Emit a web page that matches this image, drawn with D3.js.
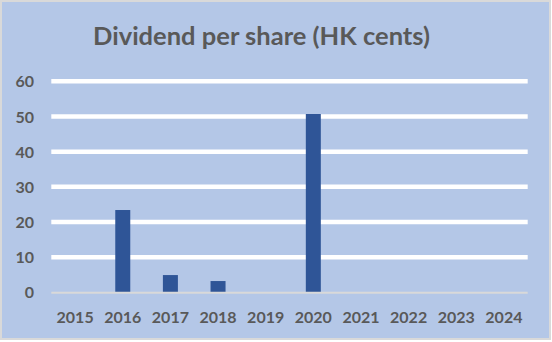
<!DOCTYPE html>
<html><head><meta charset="utf-8">
<script src="https://cdn.jsdelivr.net/npm/d3@7"></script>
<style>body{margin:0;background:#fff}svg{display:block}</style>
</head><body><svg id="c" width="552" height="342"></svg>
<script>
const categories = ["2015","2016","2017","2018","2019","2020","2021","2022","2023","2024"];
const values = [0, 23.4, 4.9, 3.2, 0, 50.7, 0, 0, 0, 0];
const yTicks = [0, 10, 20, 30, 40, 50, 60];
const title = "Dividend per share (HK cents)";

const svg = d3.select("#c");
svg.append("rect").attr("x",1).attr("y",1).attr("width",549).attr("height",338)
  .attr("fill","#b4c7e7").attr("stroke","#d9d9d9").attr("stroke-width",2);

const x = d3.scaleBand().domain(categories).range([51.3, 527.7]).paddingInner(0).paddingOuter(0);
const y = d3.scaleLinear().domain([0, 60]).range([292.3, 81.3]);
const font = "Lato, 'Open Sans', sans-serif";

svg.append("text").attr("x",261.5).attr("y",45).attr("text-anchor","middle")
  .attr("font-family",font).attr("font-weight","bold").attr("font-size",24.5)
  .attr("fill","#595959").attr("textLength",337).attr("lengthAdjust","spacingAndGlyphs").text(title);

const g = svg.append("g");
g.selectAll("line.grid").data(yTicks.filter(d=>d>0)).join("line").attr("class","grid")
  .attr("x1",51.3).attr("x2",527.7).attr("y1",d=>y(d)).attr("y2",d=>y(d))
  .attr("stroke","#fff").attr("stroke-width",4.5);

const bw = 15;
g.selectAll("rect.bar").data(categories.map((c,i)=>({c,v:values[i]})).filter(d=>d.v>0)).join("rect")
  .attr("class","bar")
  .attr("x",d=>x(d.c)+x.bandwidth()/2-bw/2).attr("width",bw)
  .attr("y",d=>y(d.v)).attr("height",d=>y(0)-y(d.v)).attr("fill","#2f5597");

g.append("line").attr("x1",51.3).attr("x2",527.7).attr("y1",y(0)+0.5).attr("y2",y(0)+0.5)
  .attr("stroke","#d9d9d9").attr("stroke-width",2);

const yAxis = d3.axisLeft(y).tickValues(yTicks).tickSize(0).tickPadding(0);
const ya = svg.append("g").attr("transform","translate(34,0)").call(yAxis);
ya.select(".domain").remove();
ya.selectAll("text").attr("font-family",font).attr("font-weight","bold").attr("font-size",16)
  .attr("fill","#595959").attr("dy","0.35em");

const xAxis = d3.axisBottom(x).tickSize(0).tickPadding(0);
const xa = svg.append("g").attr("transform","translate(0,311)").call(xAxis);
xa.select(".domain").remove();
xa.selectAll("text").attr("font-family",font).attr("font-weight","bold").attr("font-size",16)
  .attr("fill","#595959").attr("dy","0.72em");
</script></body></html>
